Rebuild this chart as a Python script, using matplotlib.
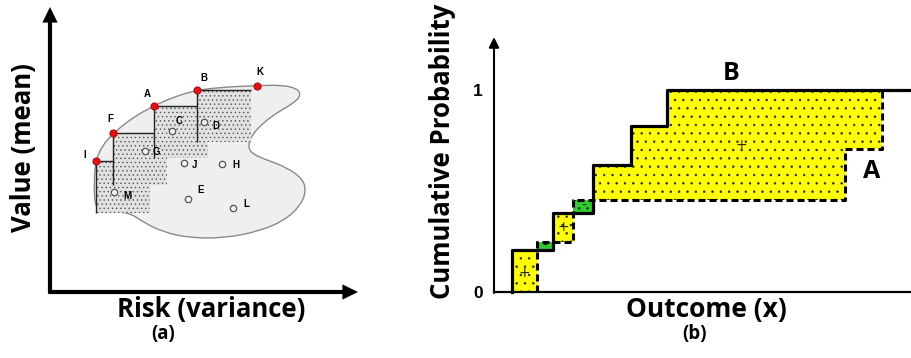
import numpy as np
import matplotlib
matplotlib.use("Agg")
import matplotlib.pyplot as plt
from matplotlib.path import Path
from matplotlib.patches import PathPatch, Rectangle

# ---------------- data ----------------
# (a) mean-variance plane: efficient frontier (red) and dominated options (open)
frontier_names = ["I", "F", "A", "B", "K"]
frontier_risk = [45.7, 63.3, 104.0, 147.3, 206.7]
frontier_value = [131.0, 158.7, 186.3, 202.0, 206.3]

other_names = ["M", "G", "C", "D", "J", "H", "E", "L"]
other_risk = [64.0, 95.0, 122.3, 154.0, 134.3, 172.3, 137.7, 183.3]
other_value = [99.7, 141.0, 161.3, 170.3, 129.3, 127.7, 93.0, 83.7]

# outline of the feasible region
region_risk = [45.7, 52, 63.3, 82, 104, 125, 147.3, 175, 206.7, 232, 247, 251,
               244, 228, 213, 202, 198, 201, 214, 236, 253, 256, 250, 235,
               210, 175, 140, 113, 93, 80, 60, 45, 44]
region_value = [131, 146, 158.7, 174, 186.3, 195.5, 202, 205, 206.3, 207, 203.5, 197,
                189, 180, 169, 157, 147, 139, 133, 125, 113, 100, 86, 72,
                61, 54, 54, 60, 70, 79, 81, 82, 110]

# (b) cumulative distributions of two prospects (step points)
b_x = [4.3, 14.3, 23.9, 32.9, 41.5]
b_p = [0.21, 0.39, 0.63, 0.82, 1.0]
a_x = [10.3, 19.1, 84.4, 93.2]
a_p = [0.25, 0.455, 0.71, 1.0]
x_end = 98.0

# ---------------- figure ----------------
W, H = 912, 358
fig = plt.figure(figsize=(W / 100, H / 100), dpi=100)
plt.rcParams["hatch.linewidth"] = 0.5
LABEL_FONT = "Open Sans"


def px_axes(x0, y0, x1, y1):
    return fig.add_axes([x0 / W, 1 - y1 / H, (x1 - x0) / W, (y1 - y0) / H])


# ======== panel (a) ========
ax = px_axes(50, 5, 362, 292)
ax.set_xlim(0, 312)
ax.set_ylim(0, 287)
ax.axis("off")

# smooth closed outline (quadratic B-spline through midpoints)
pts = np.column_stack([region_risk, region_value])
mids = (pts + np.roll(pts, -1, axis=0)) / 2
verts = [mids[-1]]
codes = [Path.MOVETO]
for i in range(len(pts)):
    verts += [pts[i], mids[i]]
    codes += [Path.CURVE3, Path.CURVE3]
verts.append(mids[-1])
codes.append(Path.CLOSEPOLY)
ax.add_patch(PathPatch(Path(verts, codes), facecolor="#efefef",
                       edgecolor="#8a8a8a", lw=1.0, zorder=1))

# dominance boxes below/right of each frontier point
box_w, box_h = 54, 52
for i, (x, y) in enumerate(zip(frontier_risk[:-1], frontier_value[:-1])):
    z = 2 + i * 0.1
    ax.add_patch(Rectangle((x, y - box_h), box_w, box_h, facecolor="#e1e1e1",
                           edgecolor="#555555", hatch="....", lw=0, zorder=z))
    ax.plot([x, x, x + box_w], [y - box_h, y, y], color="#222222", lw=1.0,
            zorder=z + 0.05, solid_capstyle="butt")

ax.plot(other_risk, other_value, "o", ms=4.6, mfc="#f2f2f2", mec="#555555",
        mew=0.9, zorder=5)
ax.plot(frontier_risk, frontier_value, "o", ms=5.2, mfc="#e3101a",
        mec="#b00000", mew=0.6, zorder=6)

label_offsets = {"I": (-11, 6), "F": (-3, 14), "A": (-7, 12), "B": (7, 12),
                 "K": (3, 14), "M": (13, -4), "G": (11, -1), "C": (7, 10),
                 "D": (12, -4), "J": (10, -2), "H": (14, -1), "E": (13, 9),
                 "L": (13, 4)}
for name, x, y in zip(frontier_names + other_names, frontier_risk + other_risk,
                      frontier_value + other_value):
    ax.annotate(name, (x, y), xytext=label_offsets[name], textcoords="offset pixels",
                ha="center", va="center", fontsize=7, fontweight="bold",
                family="Liberation Sans", zorder=7)

# axes with arrow heads
arrow_a = dict(arrowstyle="-|>,head_length=0.45,head_width=0.22", lw=3,
               color="black", mutation_scale=14, shrinkA=0, shrinkB=0,
               joinstyle="miter", capstyle="butt")
ax.annotate("", xy=(0, 285), xytext=(0, -1.5), arrowprops=arrow_a,
            annotation_clip=False)
ax.annotate("", xy=(308, 0), xytext=(-1.5, 0), arrowprops=arrow_a,
            annotation_clip=False)

fig.text(24 / W, 1 - 148 / H, "Value (mean)", rotation=90, ha="center",
         va="center", fontsize=18.5, fontweight="bold", family=LABEL_FONT)
fig.text(211 / W, 1 - 309 / H, "Risk (variance)", ha="center", va="center",
         fontsize=18.5, fontweight="bold", family=LABEL_FONT)
fig.text(163 / W, 1 - 334 / H, "(a)", ha="center", va="center",
         fontsize=13.5, fontweight="bold", family=LABEL_FONT)

# ======== panel (b) ========
bx = px_axes(494, 35, 912, 292)
bx.set_xlim(0, 418 / 4.16)
bx.set_ylim(0, 257 / 202)
for s in bx.spines.values():
    s.set_visible(False)
bx.set_xticks([])
bx.set_yticks([0, 1])
bx.set_yticklabels(["0", "1"], fontsize=12.5, fontweight="bold",
                   family="Liberation Sans")
bx.tick_params(axis="y", length=0, pad=8)


def cdf_at(xs, step_x, step_p):
    idx = np.searchsorted(step_x, xs, side="right")
    return np.r_[0.0, step_p][idx]


grid = np.unique(np.r_[b_x, a_x, x_end])
cb = cdf_at(grid, b_x, b_p)
ca = cdf_at(grid, a_x, a_p)
upper = np.maximum(ca, cb)
bx.fill_between(grid, ca, upper, step="post", facecolor="#ffff00",
                edgecolor="#222222", hatch="..", lw=0, zorder=1)
bx.fill_between(grid, cb, upper, step="post", facecolor="#2ecc2e",
                edgecolor="#222222", hatch="..", lw=0, zorder=1)

# prospect B (solid) and prospect A (dashed)
bx.step(np.r_[b_x[0], b_x, x_end + 2], np.r_[0, b_p, 1.0], where="post",
        color="black", lw=2.3, zorder=4, clip_on=False)
bx.step(np.r_[a_x[0], a_x, x_end], np.r_[0, a_p, 1.0], where="post",
        color="black", lw=2.2, ls=(0, (2.3, 1.3)), zorder=3, clip_on=False)

signs = [("+", 7.3, 0.095), ("-", 12.3, 0.23), ("+", 16.7, 0.32),
         ("-", 21.5, 0.425), ("+", 59.5, 0.73)]
for s, x, y in signs:
    bx.text(x, y, s, ha="center", va="center", fontsize=10, color="#222222",
            zorder=5, family="DejaVu Sans")

bx.text(57.1, 1.084, "B", ha="center", va="center", fontsize=18,
        fontweight="bold", family=LABEL_FONT)
bx.text(90.8, 0.596, "A", ha="center", va="center", fontsize=18,
        fontweight="bold", family=LABEL_FONT)

arrow_b = dict(arrowstyle="-|>,head_length=0.5,head_width=0.25", lw=1.5,
               color="black", mutation_scale=12, shrinkA=0, shrinkB=0)
bx.annotate("", xy=(0, 1.262), xytext=(0, -0.005), arrowprops=arrow_b,
            annotation_clip=False)
bx.plot([0, 418 / 4.16], [0, 0], color="black", lw=1.6, clip_on=False, zorder=2)

fig.text(443 / W, 1 - 151 / H, "Cumulative Probability", rotation=90,
         ha="center", va="center", fontsize=18.5, fontweight="bold",
         family=LABEL_FONT)
fig.text(706 / W, 1 - 310 / H, "Outcome (x)", ha="center", va="center",
         fontsize=19, fontweight="bold", family=LABEL_FONT)
fig.text(695 / W, 1 - 334 / H, "(b)", ha="center", va="center",
         fontsize=13.5, fontweight="bold", family=LABEL_FONT)

fig.savefig("out.png", dpi=100)
